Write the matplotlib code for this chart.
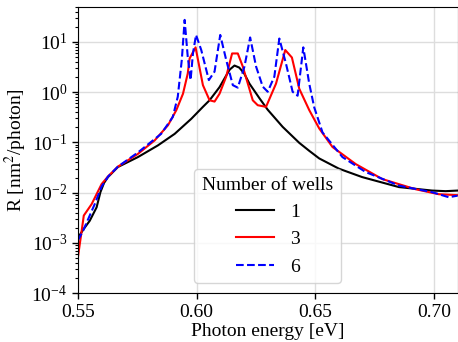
import matplotlib
matplotlib.use('Agg')
import matplotlib.pyplot as plt
from matplotlib.ticker import LogLocator, NullFormatter

# 1 well
e1 = [0.550, 0.5525, 0.555, 0.5579, 0.5595, 0.561, 0.5627, 0.5669, 0.5753, 0.5837,
      0.5908, 0.5978, 0.6027, 0.6055, 0.6097, 0.6125, 0.614, 0.616, 0.618, 0.620,
      0.6223, 0.6265, 0.630, 0.6363, 0.6433, 0.6475, 0.6517, 0.660, 0.6698, 0.6853,
      0.6992, 0.705, 0.710]
r1 = [1.26e-3, 1.9e-3, 2.75e-3, 5.1e-3, 1.02e-2, 1.55e-2, 2.04e-2, 3.24e-2, 5.1e-2, 8.7e-2,
      0.148, 0.295, 0.51, 0.69, 1.26, 2.14, 2.82, 3.39, 3.09, 2.40,
      1.48, 0.76, 0.447, 0.204, 0.098, 0.068, 0.048, 0.030, 0.0204, 0.0129,
      0.011, 0.0107, 0.011]

# 3 wells
e3 = [0.550, 0.5515, 0.5525, 0.5558, 0.560, 0.5627, 0.5669, 0.5753, 0.5824, 0.588,
      0.5915, 0.5943, 0.5963, 0.5971, 0.5996, 0.6027, 0.6055, 0.6076, 0.6097, 0.6125,
      0.615, 0.6174, 0.6195, 0.6237, 0.6258, 0.6293, 0.6335, 0.6374, 0.6402, 0.6433,
      0.6475, 0.6517, 0.6573, 0.6671, 0.6783, 0.6923, 0.7021, 0.710]
r3 = [5.1e-4, 1.6e-3, 3.5e-3, 5.9e-3, 1.48e-2, 2.1e-2, 3.3e-2, 5.9e-2, 0.11, 0.22,
      0.44, 0.93, 2.34, 4.7, 7.8, 1.38, 0.69, 0.65, 0.93, 2.04,
      5.9, 5.9, 3.24, 0.69, 0.55, 0.51, 1.48, 6.9, 4.9, 1.17,
      0.44, 0.19, 0.081, 0.037, 0.0186, 0.0117, 0.0093, 0.0089]

# 6 wells
e6 = [0.550, 0.5522, 0.555, 0.5571, 0.560, 0.5627, 0.5669, 0.5753, 0.5851, 0.590,
      0.5921, 0.5938, 0.595, 0.5963, 0.5975, 0.5985, 0.5998, 0.602, 0.6052, 0.6076,
      0.610, 0.6125, 0.6153, 0.6174, 0.6202, 0.6226, 0.6251, 0.6279, 0.630, 0.6328,
      0.6349, 0.6377, 0.6405, 0.6426, 0.645, 0.6475, 0.6496, 0.6531, 0.6615, 0.6713,
      0.6853, 0.6993, 0.7063, 0.710]
r6 = [1.12e-3, 1.74e-3, 3.5e-3, 5.9e-3, 1.32e-2, 2.08e-2, 3.3e-2, 6.3e-2, 0.148, 0.32,
      0.81, 4.4, 27.5, 5.1, 1.74, 5.9, 13.8, 6.9, 1.74, 2.57,
      13.8, 4.4, 1.38, 1.23, 3.24, 12.3, 3.24, 1.29, 1.02, 2.04,
      11.7, 3.7, 1.02, 0.85, 7.8, 1.48, 0.50, 0.158, 0.051, 0.0257,
      0.0138, 0.0102, 0.0081, 0.0087]

plt.rcParams['font.family'] = ['Liberation Serif', 'DejaVu Serif']
plt.rcParams['mathtext.fontset'] = 'stix'
plt.rcParams['font.size'] = 14

fig, ax = plt.subplots(figsize=(4.58, 3.42), dpi=100)
fig.subplots_adjust(left=0.170, right=0.999, top=0.98, bottom=0.143)

ax.plot(e1, r1, color='black', lw=1.5, label='1')
ax.plot(e3, r3, color='red', lw=1.5, label='3')
ax.plot(e6, r6, color='blue', lw=1.5, ls='--', label='6')

ax.set_yscale('log')
ax.set_xlim(0.55, 0.71)
ax.set_ylim(1e-4, 50)
ax.set_xticks([0.55, 0.60, 0.65, 0.70])
ax.yaxis.set_minor_locator(LogLocator(base=10, subs=range(2, 10), numticks=20))
ax.yaxis.set_minor_formatter(NullFormatter())
ax.tick_params(axis='y', which='minor', length=2.5, width=0.8)
ax.tick_params(axis='both', which='major', length=4, width=1)
ax.grid(True, color='#dddddd', lw=1)
ax.set_axisbelow(True)

ax.set_xlabel('Photon energy [eV]', labelpad=2)
ax.set_ylabel('R [nm$^2$/photon]', labelpad=2)

ax.legend(title='Number of wells', loc='lower center', fontsize=14, title_fontsize=14)

fig.savefig('out.png', dpi=100)
